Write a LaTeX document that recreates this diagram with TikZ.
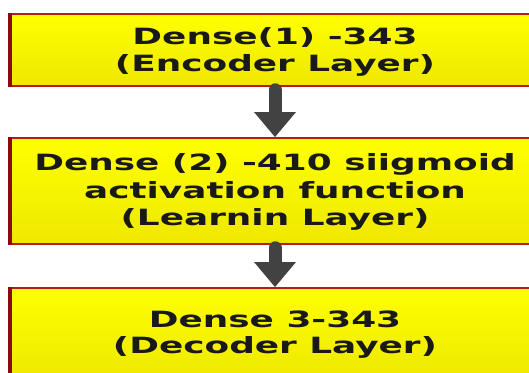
\documentclass[tikz,border=0pt]{standalone}
\usepackage{fontspec}
\usetikzlibrary{arrows.meta,shadings}
\newfontfamily\boxfont[FakeStretch=1.6]{DejaVu Sans Bold}
\definecolor{boxred}{RGB}{185,25,25}
\definecolor{boxdark}{RGB}{140,10,10}
\definecolor{yeltop}{RGB}{255,255,0}
\definecolor{yelbot}{RGB}{238,232,0}
\definecolor{arrowgray}{RGB}{66,66,66}
\tikzset{
  layerbox/.style={rectangle, draw=boxred, line width=1.6pt, top color=yeltop, bottom color=yelbot,
    minimum width=530pt, inner sep=0pt},
  boxtext/.style={inner sep=0pt, align=center, text=black!90,
    font=\boxfont\fontsize{22.4}{27.5}\selectfont},
  flowarrow/.style={draw=arrowgray, line width=13pt, line cap=round,
    -{Triangle[width=40pt,length=25pt]}},
}
\begin{document}
\begin{tikzpicture}[x=1pt,y=-1pt]
\useasboundingbox (0,0) rectangle (529,372);
\clip (0,0) rectangle (529,372);
\fill[white] (0,0) rectangle (529,372);
\node[layerbox, minimum height=72pt] (b1) at (275,50) {};
\node[layerbox, minimum height=106pt] (b2) at (275,191) {};
\node[layerbox, minimum height=92pt] (b3) at (275,334) {};
\node[boxtext] (t1) at (275,52) {Dense(1) -343\\(Encoder Layer)};
\node[boxtext] (t2) at (275,192) {Dense (2) -410 siigmoid\\activation function\\(Learnin Layer)};
\node[boxtext, font=\boxfont\fontsize{22.4}{26}\selectfont] (t3) at (275,335) {Dense 3-343\\(Decoder Layer)};
\foreach \b in {b1,b2,b3}{
  \draw[boxdark, line width=3.5pt] ([xshift=1pt]\b.north west) -- ([xshift=1pt]\b.south west);
}
\draw[flowarrow] ([yshift=-3pt]b1.south) -- (b2.north);
\draw[flowarrow] ([yshift=-3pt]b2.south) -- (b3.north);
\end{tikzpicture}
\end{document}
